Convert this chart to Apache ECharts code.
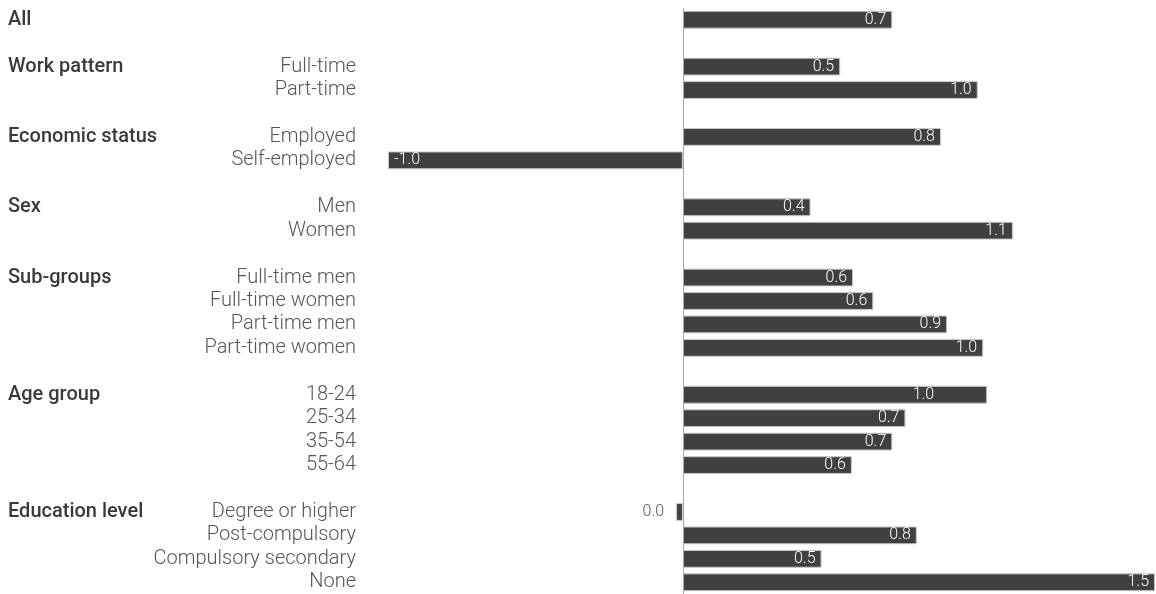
<!DOCTYPE html>
<html><head><meta charset="utf-8">
<script src="https://cdn.jsdelivr.net/npm/echarts@6/dist/echarts.min.js"></script>
<style>html,body{margin:0;padding:0;background:#fff}#c{width:1156px;height:594px}</style>
</head><body><div id="c"></div>
<script>
const categories = ['', '', 'Full-time', 'Part-time', '', 'Employed', 'Self-employed', '', 'Men', 'Women', '',
  'Full-time men', 'Full-time women', 'Part-time men', 'Part-time women', '',
  '18-24', '25-34', '35-54', '55-64', '',
  'Degree or higher', 'Post-compulsory', 'Compulsory secondary', 'None'];
const groups = ['All', '', 'Work pattern', '', '', 'Economic status', '', '', 'Sex', '', '',
  'Sub-groups', '', '', '', '',
  'Age group', '', '', '', '',
  'Education level', '', '', ''];
const values = [0.684, null, 0.514, 0.963, null, 0.843, -0.963, null, 0.417, 1.078, null,
  0.556, 0.622, 0.863, 0.981, null,
  0.994, 0.727, 0.684, 0.552, null,
  -0.022, 0.764, 0.453, 1.542];
const FONT = 'Roboto';
const fmt = v => (Math.abs(v) < 0.05 ? 0 : v).toFixed(1);
const data = values.map((v, i) => {
  if (v === null) return null;
  const item = { value: v };
  if (v < -0.5) item.label = { position: 'insideLeft' };
  else if (v < 0) item.label = { position: 'left', color: '#555', distance: 12 };
  if (categories[i] === '18-24') item.label = { offset: [-47, 0] };
  return item;
});
const chart = echarts.init(document.getElementById('c'), null, { renderer: 'canvas' });
chart.setOption({
  animation: false,
  backgroundColor: '#fff',
  grid: { left: 388, right: 1, top: 8, height: 589, containLabel: false },
  xAxis: { type: 'value', min: -0.963, max: 1.542, show: false },
  yAxis: [
    { type: 'category', data: categories, inverse: true,
      axisLine: { show: false, onZero: false }, axisTick: { show: false },
      axisLabel: { margin: 32, color: '#555', fontFamily: FONT, fontWeight: 300, fontSize: 20, interval: 0 } },
    { type: 'category', data: groups, inverse: true, position: 'left', offset: 380,
      axisLine: { show: false, onZero: false }, axisTick: { show: false },
      axisLabel: { margin: 0, align: 'left', color: '#3a3a3a', fontFamily: FONT, fontWeight: 500, fontSize: 20, interval: 0 } }
  ],
  series: [{
    type: 'bar', yAxisIndex: 0, data: data, barCategoryGap: '24%',
    itemStyle: { color: '#404040', borderColor: '#c8c8c8', borderWidth: 1 },
    label: { show: true, position: 'insideRight', distance: 6, color: '#fff', fontFamily: FONT, fontWeight: 300, fontSize: 16,
      formatter: p => fmt(p.value) },
    markLine: { silent: true, symbol: 'none', label: { show: false },
      lineStyle: { color: '#aaa', width: 1, type: 'solid' }, data: [{ xAxis: 0 }] }
  }]
});
</script></body></html>
